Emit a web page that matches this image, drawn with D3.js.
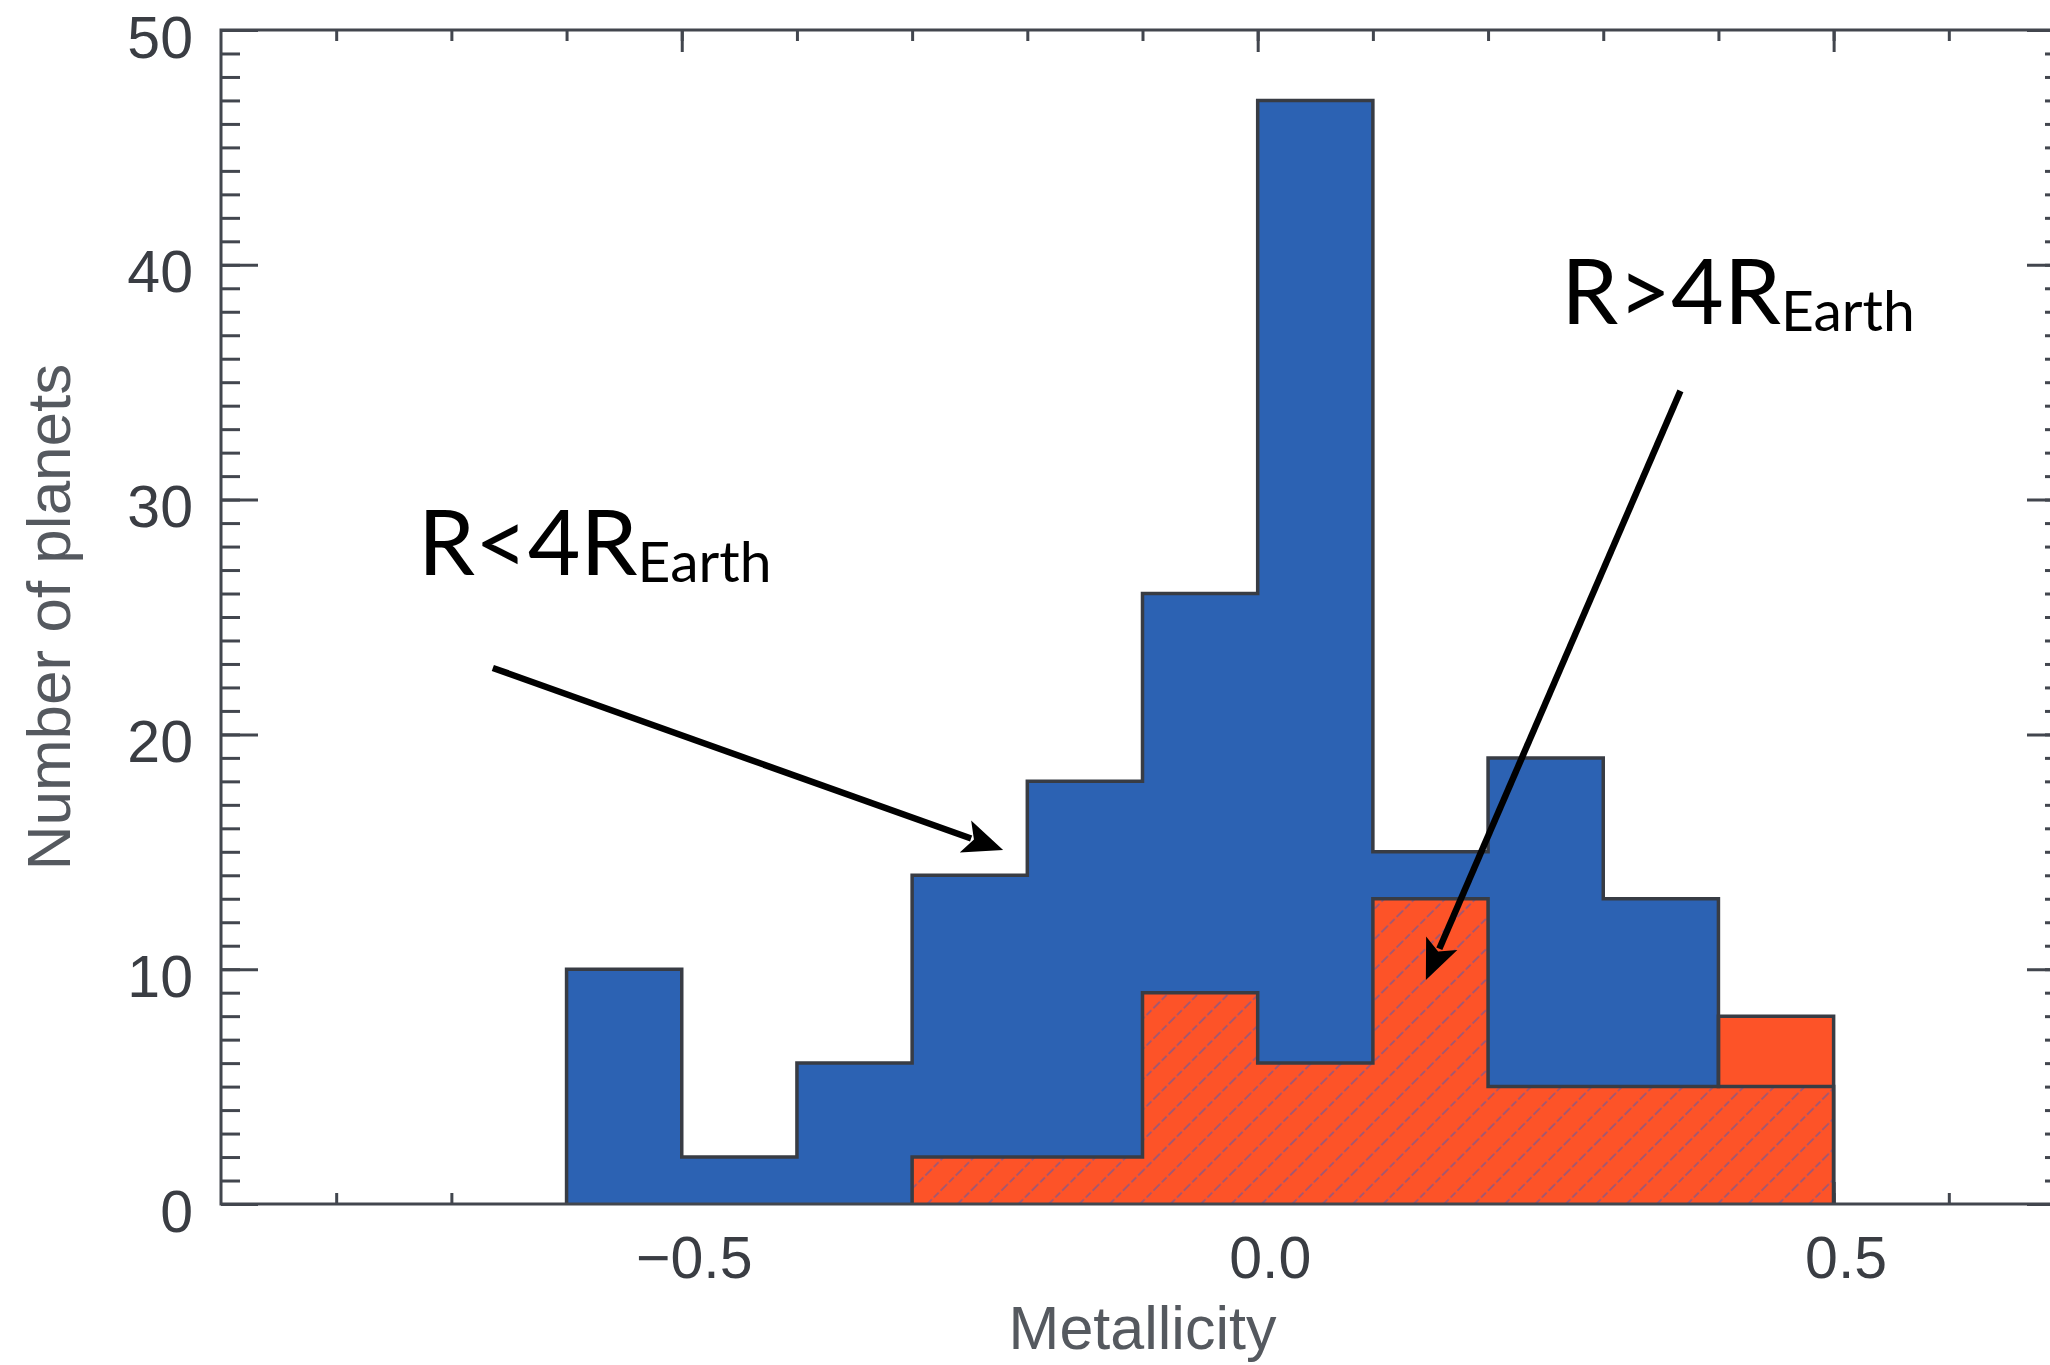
<!DOCTYPE html>
<html>
<head>
<meta charset="utf-8">
<script src="https://cdn.jsdelivr.net/npm/d3@7"></script>
<style>
  html, body { margin: 0; padding: 0; background: #ffffff; }
  svg { display: block; }
</style>
</head>
<body>
<svg id="chart" width="2050" height="1365"></svg>
<script>
// ---- data ----
const binStarts = [-0.6, -0.5, -0.4, -0.3, -0.2, -0.1, 0.0, 0.1, 0.2, 0.3, 0.4];
const binWidth = 0.1;
const smallPlanets = [10, 2, 6, 14, 18, 26, 47, 15, 19, 13, 5];   // R < 4 R_Earth
const largePlanets = [0, 0, 0, 2, 2, 9, 6, 13, 5, 5, 8];          // R > 4 R_Earth
const xMajorTicks = [-0.5, 0.0, 0.5];
const xTickLabels = ["\u22120.5", "0.0", "0.5"];
const yMajorTicks = [0, 10, 20, 30, 40, 50];
const xLabel = "Metallicity";
const yLabel = "Number of planets";
const annotations = [
  { main: "R<4R", sub: "Earth", x: -0.729, y: 26.8, from: [-0.664, 22.83], to: [-0.221, 15.08] },
  { main: "R>4R", sub: "Earth", x: 0.2636, y: 37.46, from: [0.367, 34.63], to: [0.146, 9.54] }
];

(function () {
// ---- layout ----
const mLeft = 221, mRight = 2064, mTop = 30, mBottom = 1204;
const svg = d3.select("#chart");
const x = d3.scaleLinear().domain([-0.9, 0.7]).range([mLeft, mRight]);
const y = d3.scaleLinear().domain([0, 50]).range([mBottom, mTop]);

const axisColor = "#42464e";
const outline = "#383c44";
const blue = "#2c62b3";
const orange = "#fd5328";

// hatch pattern
const defs = svg.append("defs");
const pat = defs.append("pattern")
  .attr("id", "hatch")
  .attr("patternUnits", "userSpaceOnUse")
  .attr("width", 21.5).attr("height", 21.5)
  .attr("patternTransform", "rotate(45)");
pat.append("line")
  .attr("x1", 2).attr("y1", -2).attr("x2", 2).attr("y2", 24)
  .attr("stroke", "#80598c").attr("stroke-opacity", 0.8)
  .attr("stroke-width", 1.7).attr("stroke-dasharray", "7 2.5");

// ---- axes (ticks, drawn under bars) ----
const xMinor = d3.range(-8, 7).map(d => d / 10);
const yMinor = d3.range(0, 51);

function styleAxis(g) {
  g.select(".domain").remove();
  g.selectAll(".tick line").attr("stroke", axisColor).attr("stroke-width", 3);
}

// bottom
svg.append("g").attr("transform", `translate(0,${mBottom})`)
  .call(d3.axisBottom(x).tickValues(xMinor).tickSize(-11).tickFormat(""))
  .call(styleAxis);
const xb = svg.append("g").attr("transform", `translate(0,${mBottom})`)
  .call(d3.axisBottom(x).tickValues(xMajorTicks).tickSize(-22)
    .tickFormat((d, i) => xTickLabels[i]))
  .call(styleAxis);
xb.selectAll(".tick text")
  .attr("y", 74).attr("dy", null).attr("dx", 12)
  .attr("fill", "#3a3d43")
  .style("font-family", "'Liberation Sans', Arial, sans-serif")
  .style("font-size", "59px");

// top
svg.append("g").attr("transform", `translate(0,${mTop})`)
  .call(d3.axisTop(x).tickValues(xMinor).tickSize(-11).tickFormat(""))
  .call(styleAxis);
svg.append("g").attr("transform", `translate(0,${mTop})`)
  .call(d3.axisTop(x).tickValues(xMajorTicks).tickSize(-22).tickFormat(""))
  .call(styleAxis);

// left
svg.append("g").attr("transform", `translate(${mLeft},0)`)
  .call(d3.axisLeft(y).tickValues(yMinor).tickSize(-19).tickFormat(""))
  .call(styleAxis);
const yl = svg.append("g").attr("transform", `translate(${mLeft},0)`)
  .call(d3.axisLeft(y).tickValues(yMajorTicks).tickSize(-37).tickPadding(28))
  .call(styleAxis);
yl.selectAll(".tick text")
  .attr("dy", "0.46em")
  .attr("fill", "#3a3d43")
  .style("font-family", "'Liberation Sans', Arial, sans-serif")
  .style("font-size", "59px");

// right
svg.append("g").attr("transform", `translate(${mRight},0)`)
  .call(d3.axisRight(y).tickValues(yMinor).tickSize(-19).tickFormat(""))
  .call(styleAxis);
svg.append("g").attr("transform", `translate(${mRight},0)`)
  .call(d3.axisRight(y).tickValues(yMajorTicks).tickSize(-37).tickFormat(""))
  .call(styleAxis);

// ---- histograms ----
function stepPoints(vals) {
  const idx = vals.map((v, i) => v > 0 ? i : -1).filter(i => i >= 0);
  const a = idx[0], b = idx[idx.length - 1];
  const pts = [[binStarts[a], 0]];
  for (let i = a; i <= b; i++) {
    pts.push([binStarts[i], vals[i]]);
    pts.push([binStarts[i] + binWidth, vals[i]]);
  }
  pts.push([binStarts[b] + binWidth, 0]);
  return pts;
}
const line = d3.line().x(d => x(d[0])).y(d => y(d[1]));

const smallPts = stepPoints(smallPlanets);
const largePts = stepPoints(largePlanets);
const overlap = smallPlanets.map((v, i) => Math.min(v, largePlanets[i]));
const overlapPts = stepPoints(overlap);

svg.append("path").attr("d", line(smallPts) + "Z").attr("fill", blue).attr("stroke", "none");
svg.append("path").attr("d", line(largePts) + "Z").attr("fill", orange).attr("stroke", "none");
svg.append("path").attr("d", line(overlapPts) + "Z").attr("fill", "url(#hatch)").attr("stroke", "none");

svg.append("path").attr("d", line(smallPts)).attr("fill", "none")
  .attr("stroke", outline).attr("stroke-width", 3.5).attr("stroke-linejoin", "miter");
svg.append("path").attr("d", line(largePts)).attr("fill", "none")
  .attr("stroke", outline).attr("stroke-width", 3.5).attr("stroke-linejoin", "miter");

// frame
svg.append("rect")
  .attr("x", mLeft).attr("y", mTop)
  .attr("width", mRight - mLeft).attr("height", mBottom - mTop)
  .attr("fill", "none").attr("stroke", axisColor).attr("stroke-width", 3);

// ---- axis titles ----
svg.append("text")
  .attr("x", (mLeft + mRight) / 2).attr("y", 1349)
  .attr("text-anchor", "middle")
  .attr("fill", "#55595f")
  .style("font-family", "'Liberation Sans', Arial, sans-serif")
  .style("font-size", "61px")
  .text(xLabel);
svg.append("text")
  .attr("transform", `translate(70,${(mTop + mBottom) / 2}) rotate(-90)`)
  .attr("text-anchor", "middle")
  .attr("fill", "#55595f")
  .style("font-family", "'Liberation Sans', Arial, sans-serif")
  .style("font-size", "62px")
  .text(yLabel);

// ---- annotations ----
annotations.forEach(a => {
  const t = svg.append("text")
    .attr("x", x(a.x)).attr("y", y(a.y))
    .attr("fill", "#000")
    .style("font-family", "Lato, 'Open Sans', sans-serif")
    .style("font-size", "91px");
  t.append("tspan").text(a.main);
  t.append("tspan").attr("dy", 7).style("font-size", "57px").text(a.sub);

  const x0 = x(a.from[0]), y0 = y(a.from[1]);
  const x1 = x(a.to[0]), y1 = y(a.to[1]);
  const ang = Math.atan2(y1 - y0, x1 - x0);
  const hl = 40, hw = 17;
  const bx = x1 - hl * Math.cos(ang), by = y1 - hl * Math.sin(ang);
  svg.append("line")
    .attr("x1", x0).attr("y1", y0)
    .attr("x2", x1 - (hl - 6) * Math.cos(ang)).attr("y2", y1 - (hl - 6) * Math.sin(ang))
    .attr("stroke", "#000").attr("stroke-width", 6.5);
  const px = -Math.sin(ang), py = Math.cos(ang);
  svg.append("path")
    .attr("d", `M${x1},${y1} L${bx + hw * px},${by + hw * py} L${bx + 9 * Math.cos(ang)},${by + 9 * Math.sin(ang)} L${bx - hw * px},${by - hw * py} Z`)
    .attr("fill", "#000");
});
})();
</script>
</body>
</html>
